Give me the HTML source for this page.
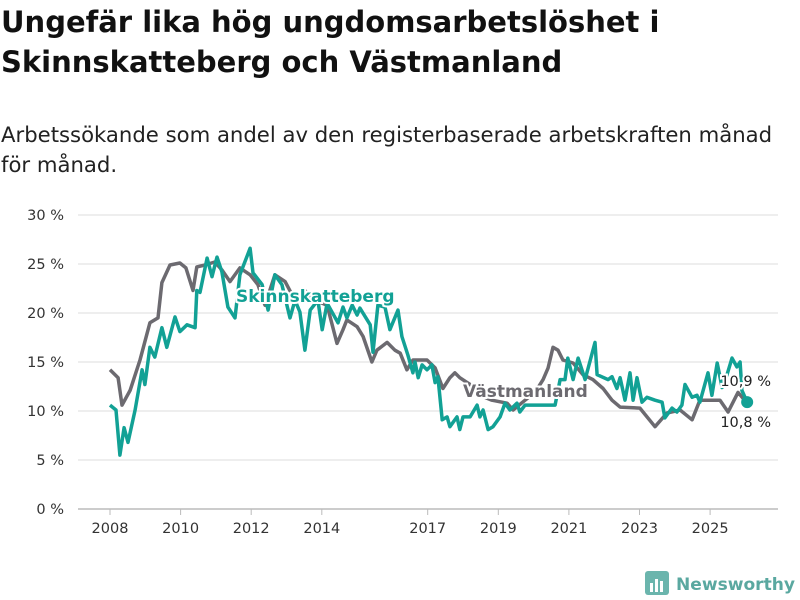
<!DOCTYPE html>
<html><head><meta charset="utf-8"><style>
body{margin:0;background:#fff;width:800px;height:600px;overflow:hidden;font-family:"DejaVu Sans","Liberation Sans",sans-serif;}
#title{position:absolute;left:1px;top:2px;font-size:29px;font-weight:bold;line-height:40px;color:#111;margin:0;white-space:nowrap;}
#sub{position:absolute;left:1px;top:120px;font-size:21.2px;line-height:30px;color:#222;margin:0;white-space:nowrap;}
svg{position:absolute;left:0;top:0;font-family:"DejaVu Sans","Liberation Sans",sans-serif;}
</style></head><body>
<h1 id="title">Ungefär lika hög ungdomsarbetslöshet i<br>Skinnskatteberg och Västmanland</h1>
<p id="sub">Arbetssökande som andel av den registerbaserade arbetskraften månad<br>för månad.</p>
<svg id="chart" width="800" height="600"></svg>
<script>
const yTicks=[0,5,10,15,20,25,30];
const xTicks=[2008,2010,2012,2014,2017,2019,2021,2023,2025];
const grayYears=[2008.00,2008.23,2008.34,2008.57,2008.85,2009.13,2009.36,2009.47,2009.70,2009.98,2010.15,2010.35,2010.46,2010.69,2010.97,2011.17,2011.40,2011.68,2011.97,2012.19,2012.39,2012.67,2012.96,2013.24,2013.52,2013.81,2014.15,2014.43,2014.60,2014.71,2015.00,2015.17,2015.42,2015.56,2015.85,2016.07,2016.22,2016.41,2016.58,2016.98,2017.21,2017.43,2017.63,2017.77,2017.91,2018.20,2018.48,2018.82,2019.25,2019.42,2019.76,2020.04,2020.27,2020.41,2020.55,2020.69,2020.83,2021.12,2021.40,2021.68,2021.97,2022.22,2022.45,2023.01,2023.44,2023.78,2024.15,2024.49,2024.71,2025.28,2025.51,2025.79,2026.05];
const grayValues=[14.2,13.4,10.6,12.1,15.2,19.0,19.5,23.1,24.9,25.1,24.6,22.3,24.7,24.9,25.2,24.4,23.2,24.6,23.9,22.9,20.8,23.9,23.2,21.3,22.3,21.3,20.8,16.9,18.3,19.3,18.6,17.6,15.0,16.2,17.0,16.2,15.9,14.2,15.2,15.2,14.4,12.3,13.4,13.9,13.4,12.7,11.6,11.1,10.8,10.1,11.1,11.9,13.2,14.4,16.5,16.2,15.2,14.9,13.7,13.2,12.3,11.1,10.4,10.3,8.4,9.8,10.1,9.1,11.1,11.1,9.9,11.9,10.8];
const tealYears=[2008.00,2008.17,2008.28,2008.40,2008.51,2008.71,2008.91,2008.99,2009.13,2009.27,2009.47,2009.61,2009.84,2009.98,2010.18,2010.41,2010.46,2010.55,2010.75,2010.89,2011.03,2011.17,2011.34,2011.54,2011.68,2011.97,2012.05,2012.31,2012.48,2012.67,2012.87,2013.10,2013.24,2013.38,2013.52,2013.67,2013.89,2014.01,2014.15,2014.46,2014.60,2014.71,2014.86,2015.00,2015.08,2015.37,2015.45,2015.59,2015.79,2015.93,2016.16,2016.27,2016.44,2016.58,2016.64,2016.73,2016.84,2016.98,2017.12,2017.21,2017.29,2017.41,2017.55,2017.63,2017.83,2017.91,2018.00,2018.20,2018.40,2018.48,2018.57,2018.71,2018.85,2019.05,2019.19,2019.33,2019.53,2019.61,2019.76,2019.98,2020.61,2020.75,2020.89,2020.97,2021.12,2021.26,2021.46,2021.74,2021.80,2022.11,2022.22,2022.36,2022.45,2022.59,2022.73,2022.82,2022.93,2023.07,2023.21,2023.44,2023.64,2023.72,2023.92,2024.06,2024.20,2024.29,2024.49,2024.63,2024.71,2024.94,2025.05,2025.20,2025.34,2025.48,2025.62,2025.76,2025.85,2025.90,2026.05];
const tealValues=[10.6,10.1,5.5,8.3,6.8,10.1,14.2,12.7,16.5,15.5,18.5,16.5,19.6,18.1,18.8,18.5,22.3,22.1,25.6,23.7,25.7,24.2,20.6,19.5,23.9,26.6,24.1,22.9,20.3,23.9,22.9,19.5,21.3,20.1,16.2,20.3,21.3,18.3,21.0,19.0,20.6,19.5,20.8,19.8,20.5,18.8,16.0,20.8,20.6,18.3,20.3,17.6,15.7,13.9,15.0,13.4,14.7,14.2,14.7,12.9,13.5,9.1,9.4,8.4,9.4,8.1,9.4,9.4,10.6,9.4,10.1,8.1,8.4,9.4,10.8,10.1,10.8,9.9,10.6,10.6,10.6,13.2,13.2,15.4,13.2,15.4,13.2,17.0,13.7,13.2,13.5,12.3,13.4,11.1,13.9,11.1,13.4,10.9,11.4,11.1,10.9,9.3,10.3,9.9,10.6,12.7,11.4,11.6,10.9,13.9,11.6,14.9,12.4,13.7,15.4,14.5,15.0,12.1,10.9];
const NS='http://www.w3.org/2000/svg';
const svg=document.getElementById('chart');
const X=y=>110+(y-2008)*35.3;
const Y=v=>509-v*9.8;
function mk(t,a,p){const e=document.createElementNS(NS,t);for(const k in a)e.setAttribute(k,a[k]);(p||svg).appendChild(e);return e;}
yTicks.forEach(t=>{
  const l=mk('line',{x1:78,x2:778,y1:Y(t),y2:Y(t),stroke:t===0?'#bbb':'#ddd','stroke-width':t===0?1.5:1});
  
  
  const tx=mk('text',{x:64,y:Y(t)+5,'text-anchor':'end','font-size':14.5,fill:'#333'});
  tx.textContent=t+' %';
  
  
});
xTicks.forEach(t=>{
  const l=mk('line',{x1:X(t),x2:X(t),y1:509,y2:515,stroke:'#bbb'});
  
  
  const tx=mk('text',{x:X(t),y:533,'text-anchor':'middle','font-size':14.5,fill:'#333'});
  tx.textContent=t;
  
  
});
function path(ys,vs){return ys.map((y,i)=>(i?'L':'M')+X(y).toFixed(1)+','+Y(vs[i]).toFixed(1)).join('');}
const g=mk('path',{d:path(grayYears,grayValues),fill:'none',stroke:'#6c6a70','stroke-width':3.5,'stroke-linejoin':'round'});


const t=mk('path',{d:path(tealYears,tealValues),fill:'none',stroke:'#12a195','stroke-width':3.5,'stroke-linejoin':'round'});


const li=tealYears.length-1;
const dot=mk('circle',{cx:X(tealYears[li]),cy:Y(tealValues[li]),r:6,fill:'#12a195'});


function lbl(txt,x,y,fill,bold,name,anchor,fs){
  const e=mk('text',{x:x,y:y,'font-size':fs,'font-weight':bold?'bold':'normal',fill:fill,stroke:'#fff','stroke-width':4,'paint-order':'stroke','text-anchor':anchor||'start'});
  e.textContent=txt;
  
  
}
lbl('Skinnskatteberg',236,302,'#12a195',true,'label-skinnskatteberg','start',17);
lbl('Västmanland',463,397,'#6c6a70',true,'label-vastmanland','start',17);
lbl('10,9 %',771,386,'#222',false,'end-value-skinnskatteberg','end',14.5);
lbl('10,8 %',771,427,'#222',false,'end-value-vastmanland','end',14.5);
const lg=mk('g',{});


mk('rect',{x:645,y:571,width:24,height:24,rx:3,fill:'#6bb5ad'},lg);
mk('rect',{x:650,y:583,width:3,height:9,fill:'#fff'},lg);
mk('rect',{x:655,y:579,width:3,height:13,fill:'#fff'},lg);
mk('rect',{x:660,y:581,width:3,height:11,fill:'#fff'},lg);
const lt=mk('text',{x:676,y:590,'font-size':17,'font-weight':'bold',fill:'#5aa8a0',textLength:119,lengthAdjust:'spacingAndGlyphs'},lg);
lt.textContent='Newsworthy';
</script>
</body></html>
